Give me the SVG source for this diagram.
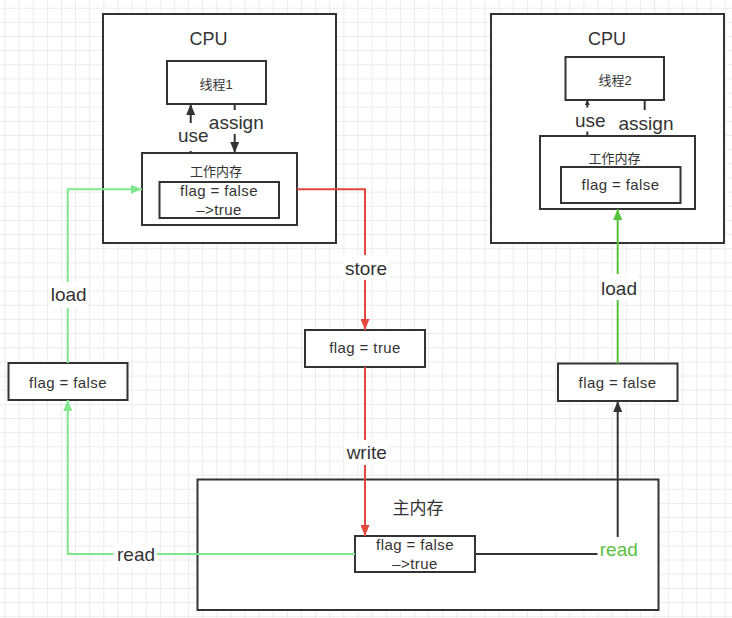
<svg xmlns="http://www.w3.org/2000/svg" width="732" height="618" viewBox="0 0 732 618">
<style>
.box{fill:#fff;stroke:#333;stroke-width:2}
.t{font-family:"Liberation Sans","Noto Sans CJK SC",sans-serif;fill:#333;text-anchor:middle}
.sm{font-size:15px;letter-spacing:0.4px}
.cj{font-size:13px}
.lb{font-size:19px}
.bg{fill:#fff}
.c{fill:none;stroke-width:2}
.red{stroke:#e4473d}
.lg{stroke:#7ee98c}
.dg{stroke:#56c23a}
.bk{stroke:#333}
</style>
<defs>
<pattern id="grid" x="4.5" y="7.7" width="14.12" height="14.15" patternUnits="userSpaceOnUse">
<path d="M0 0.5H14.12M0.5 0V14.15" fill="none" stroke="#ebebeb" stroke-width="1"/>
</pattern>
<marker id="aBk" markerUnits="userSpaceOnUse" markerWidth="11" markerHeight="9" refX="11" refY="4.5" orient="auto"><path d="M0 0L11 4.5L0 9z" fill="#333"/></marker>
<marker id="aBkS" markerUnits="userSpaceOnUse" markerWidth="5" markerHeight="5" refX="5" refY="2.5" orient="auto"><path d="M0 0L5 2.5L0 5z" fill="#333"/></marker>
<marker id="aRed" markerUnits="userSpaceOnUse" markerWidth="11" markerHeight="9" refX="11" refY="4.5" orient="auto"><path d="M0 0L11 4.5L0 9z" fill="#e4473d"/></marker>
<marker id="aLg" markerUnits="userSpaceOnUse" markerWidth="11" markerHeight="9" refX="11" refY="4.5" orient="auto"><path d="M0 0L11 4.5L0 9z" fill="#7ee98c"/></marker>
<marker id="aDg" markerUnits="userSpaceOnUse" markerWidth="11" markerHeight="9" refX="11" refY="4.5" orient="auto"><path d="M0 0L11 4.5L0 9z" fill="#56c23a"/></marker>
</defs>
<rect width="732" height="618" fill="#fff"/>
<rect width="732" height="618" fill="url(#grid)"/>

<g id="cpu1">
<rect class="box" x="103" y="14" width="233" height="229"/>
<text class="t" x="208.5" y="45" font-size="18">CPU</text>
</g>
<g id="thread1">
<rect class="box" x="167" y="61" width="99" height="43"/>
<text class="t cj" x="216" y="88.5">线程1</text>
</g>
<g id="workmem1">
<rect class="box" x="142" y="153" width="155" height="72"/>
<text class="t cj" x="216" y="176">工作内存</text>
</g>
<g id="flag-wm1">
<rect class="box" x="159.5" y="182" width="119.5" height="36"/>
<text class="t sm" x="219" y="196">flag = false</text>
<text class="t sm" x="219" y="214.5">–&gt;true</text>
</g>

<g id="cpu2">
<rect class="box" x="491" y="14" width="233" height="229"/>
<text class="t" x="607" y="45" font-size="18">CPU</text>
</g>
<g id="thread2">
<rect class="box" x="565.5" y="57" width="98.5" height="43"/>
<text class="t cj" x="615" y="85">线程2</text>
</g>
<g id="workmem2">
<rect class="box" x="540" y="136" width="155" height="73"/>
<text class="t cj" x="614.5" y="163">工作内存</text>
</g>
<g id="flag-wm2">
<rect class="box" x="561" y="167" width="119.5" height="36"/>
<text class="t sm" x="620.5" y="190">flag = false</text>
</g>

<g id="mainmem">
<rect class="box" x="197.5" y="479.5" width="461" height="130.5"/>
<text class="t" x="418" y="514" font-size="17">主内存</text>
</g>
<g id="flag-main">
<rect class="box" x="355" y="536" width="120" height="36"/>
<text class="t sm" x="415" y="550">flag = false</text>
<text class="t sm" x="415" y="569">–&gt;true</text>
</g>

<g id="flag-left">
<rect class="box" x="8.5" y="363" width="119" height="37"/>
<text class="t sm" x="68" y="388">flag = false</text>
</g>
<g id="flag-true">
<rect class="box" x="305" y="330" width="120" height="37"/>
<text class="t sm" x="365" y="353">flag = true</text>
</g>
<g id="flag-right">
<rect class="box" x="558" y="363.5" width="119.5" height="37.5"/>
<text class="t sm" x="617.5" y="388">flag = false</text>
</g>

<g id="connectors">
<path class="c bk" d="M190.7 153V104" marker-end="url(#aBk)"/>
<path class="c bk" d="M234.7 104V153" marker-end="url(#aBk)"/>
<path class="c bk" d="M587.3 136V100" marker-end="url(#aBkS)"/>
<path class="c bk" d="M644.7 100V136" marker-end="url(#aBkS)"/>
<path class="c lg" d="M67.7 363V189.3H142" marker-end="url(#aLg)"/>
<path class="c red" d="M297 189.3H365V330" marker-end="url(#aRed)"/>
<path class="c red" d="M365 367V536" marker-end="url(#aRed)"/>
<path class="c lg" d="M355 554H67.7V400" marker-end="url(#aLg)"/>
<path class="c dg" d="M617.7 363.5V209" marker-end="url(#aDg)"/>
<path class="c bk" d="M475 554H617.7V401" marker-end="url(#aBk)"/>

<rect class="bg" x="178" y="123" width="30" height="28"/>
<text class="t lb" x="193.3" y="141.5">use</text>
<rect class="bg" x="208" y="110" width="57" height="24"/>
<text class="t lb" x="236.3" y="128.5">assign</text>
<rect class="bg" x="575" y="107.5" width="31" height="24"/>
<text class="t lb" x="590.3" y="127">use</text>
<rect class="bg" x="617" y="110" width="58" height="25"/>
<text class="t lb" x="646" y="130">assign</text>
<rect class="bg" x="50" y="282" width="38" height="26"/>
<text class="t lb" x="68.7" y="301">load</text>
<rect class="bg" x="343" y="255" width="46" height="25"/>
<text class="t lb" x="366" y="275">store</text>
<rect class="bg" x="344" y="440" width="45" height="25"/>
<text class="t lb" x="366.7" y="459">write</text>
<rect class="bg" x="600" y="274" width="38" height="26"/>
<text class="t lb" x="619" y="294.5">load</text>
<rect class="bg" x="113.5" y="543" width="43" height="24"/>
<text class="t lb" x="136" y="561">read</text>
<rect class="bg" x="597.5" y="537" width="43" height="27"/>
<text class="t lb" x="618.8" y="556" style="fill:#5cbf3f">read</text>
</g>
</svg>
